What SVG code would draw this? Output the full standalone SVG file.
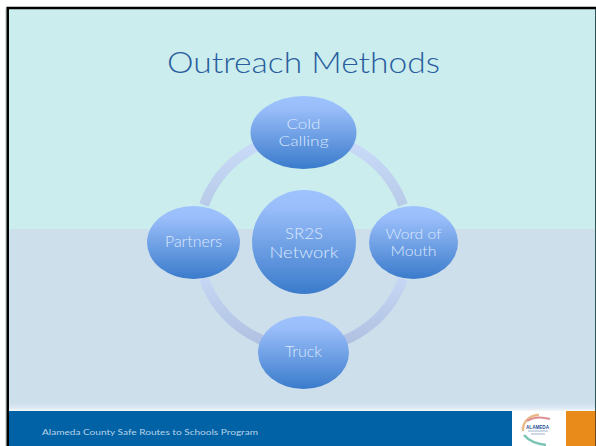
<svg xmlns="http://www.w3.org/2000/svg" width="596" height="446" viewBox="0 0 596 446">
<style>
.n{fill:url(#ball)}
.t{font-family:"Lato","Liberation Sans",sans-serif;font-weight:300;fill:#dbe8fb;text-anchor:middle;font-size:14px}
.s{font-size:16px}
.c{font-size:15.500px}
.r{fill:none;stroke-width:10}
</style>
<defs>
<filter id="soft" x="-10%" y="-10%" width="120%" height="120%"><feGaussianBlur stdDeviation="0.5"/></filter>
<linearGradient id="ball" x1="0" y1="0" x2="0" y2="1"><stop offset="0" stop-color="#9dc2fd"/><stop offset="0.16" stop-color="#9abefa"/><stop offset="1" stop-color="#3a7bcb"/></linearGradient>
<linearGradient id="ringTop" gradientUnits="userSpaceOnUse" x1="0" y1="140" x2="0" y2="215"><stop offset="0" stop-color="#c9dbf9"/><stop offset="1" stop-color="#b5c9e6"/></linearGradient>
<linearGradient id="ringBot" gradientUnits="userSpaceOnUse" x1="0" y1="275" x2="0" y2="345"><stop offset="0" stop-color="#c6d8f6"/><stop offset="1" stop-color="#afc0e0"/></linearGradient>
<linearGradient id="edge" x1="0" y1="0" x2="0" y2="1"><stop offset="0" stop-color="#cedfec"/><stop offset="0.6" stop-color="#dce8f2"/><stop offset="1" stop-color="#f4f8fb"/></linearGradient>
</defs>
<rect width="596" height="446" fill="#fff"/>
<rect x="8" y="8" width="588" height="221" fill="#cbeded"/>
<rect x="8" y="229" width="588" height="174" fill="#cedfec"/>
<rect x="8" y="403" width="588" height="8" fill="url(#edge)"/>
<rect x="9" y="411" width="503" height="35" fill="#0262a6"/>
<rect x="566" y="411" width="30" height="35" fill="#e88b1b"/>
<path d="M595.500 9V411" stroke="#2f5557" stroke-width="1" fill="none"/>
<path d="M595.500 411V446" stroke="#6b4a1c" stroke-width="1" fill="none"/>
<path d="M7.700 446V8H596" fill="none" stroke="#000" stroke-width="2.600"/>
<path d="M6 9V446" fill="none" stroke="#7d9090" stroke-width="0.600"/>
<text x="303.500" y="73" text-anchor="middle" font-family="Lato,'Liberation Sans',sans-serif" font-weight="300" font-size="30" fill="#2a5d9f" textLength="273" lengthAdjust="spacingAndGlyphs">Outreach Methods</text>
<g id="connectors">
<path class="r" stroke="url(#ringTop)" d="M204 205A106 106 0 0 1 403 205"/>
<path class="r" stroke="url(#ringBot)" d="M204 279A106 106 0 0 0 403 279"/>
</g>
<g id="node-center"><circle class="n" cx="304" cy="242" r="52"/><text class="t c" x="304" y="239" textLength="38" lengthAdjust="spacingAndGlyphs">SR2S</text><text class="t c" x="304" y="258" textLength="69" lengthAdjust="spacingAndGlyphs">Network</text></g>
<g id="node-cold"><ellipse class="n" cx="303.500" cy="132.500" rx="53" ry="36.500"/><text class="t" x="303.500" y="129" textLength="34" lengthAdjust="spacingAndGlyphs">Cold</text><text class="t" x="303.500" y="146" textLength="50" lengthAdjust="spacingAndGlyphs">Calling</text></g>
<g id="node-word"><ellipse class="n" cx="413.500" cy="242.500" rx="44.500" ry="36.500"/><text class="t" x="413.500" y="239" textLength="56" lengthAdjust="spacingAndGlyphs">Word of</text><text class="t" x="413.500" y="256" textLength="46" lengthAdjust="spacingAndGlyphs">Mouth</text></g>
<g id="node-truck"><ellipse class="n" cx="303.500" cy="352.500" rx="45.500" ry="36.500"/><text class="t s" x="303.500" y="357" textLength="37" lengthAdjust="spacingAndGlyphs">Truck</text></g>
<g id="node-partners"><ellipse class="n" cx="193.500" cy="242.500" rx="46.500" ry="36.500"/><text class="t s" x="193.500" y="247" textLength="57" lengthAdjust="spacingAndGlyphs">Partners</text></g>
<text x="42" y="435" font-family="Lato,'Liberation Sans',sans-serif" font-size="8" fill="#b9d3e8" textLength="216" lengthAdjust="spacingAndGlyphs">Alameda County Safe Routes to Schools Program</text>
<g id="logo">
<g filter="url(#soft)" fill="none">
<path d="M523 431C522 422 530 415 539 415" stroke="#eab98a" stroke-width="2.500"/>
<path d="M527 421C535 416 543 417 550 419" stroke="#dc8f96" stroke-width="2"/>
<path d="M524 435C529 441 537 444 546 445" stroke="#7cc4b4" stroke-width="2.500"/>
<path d="M528 431H548M531 434H545" stroke="#9fb4cc" stroke-width="1"/>
</g>
<text x="537.500" y="429" text-anchor="middle" font-family="'Liberation Sans',sans-serif" font-weight="700" font-size="5" fill="#2b4f9a" textLength="23" lengthAdjust="spacingAndGlyphs">ALAMEDA</text>
</g>
</svg>
